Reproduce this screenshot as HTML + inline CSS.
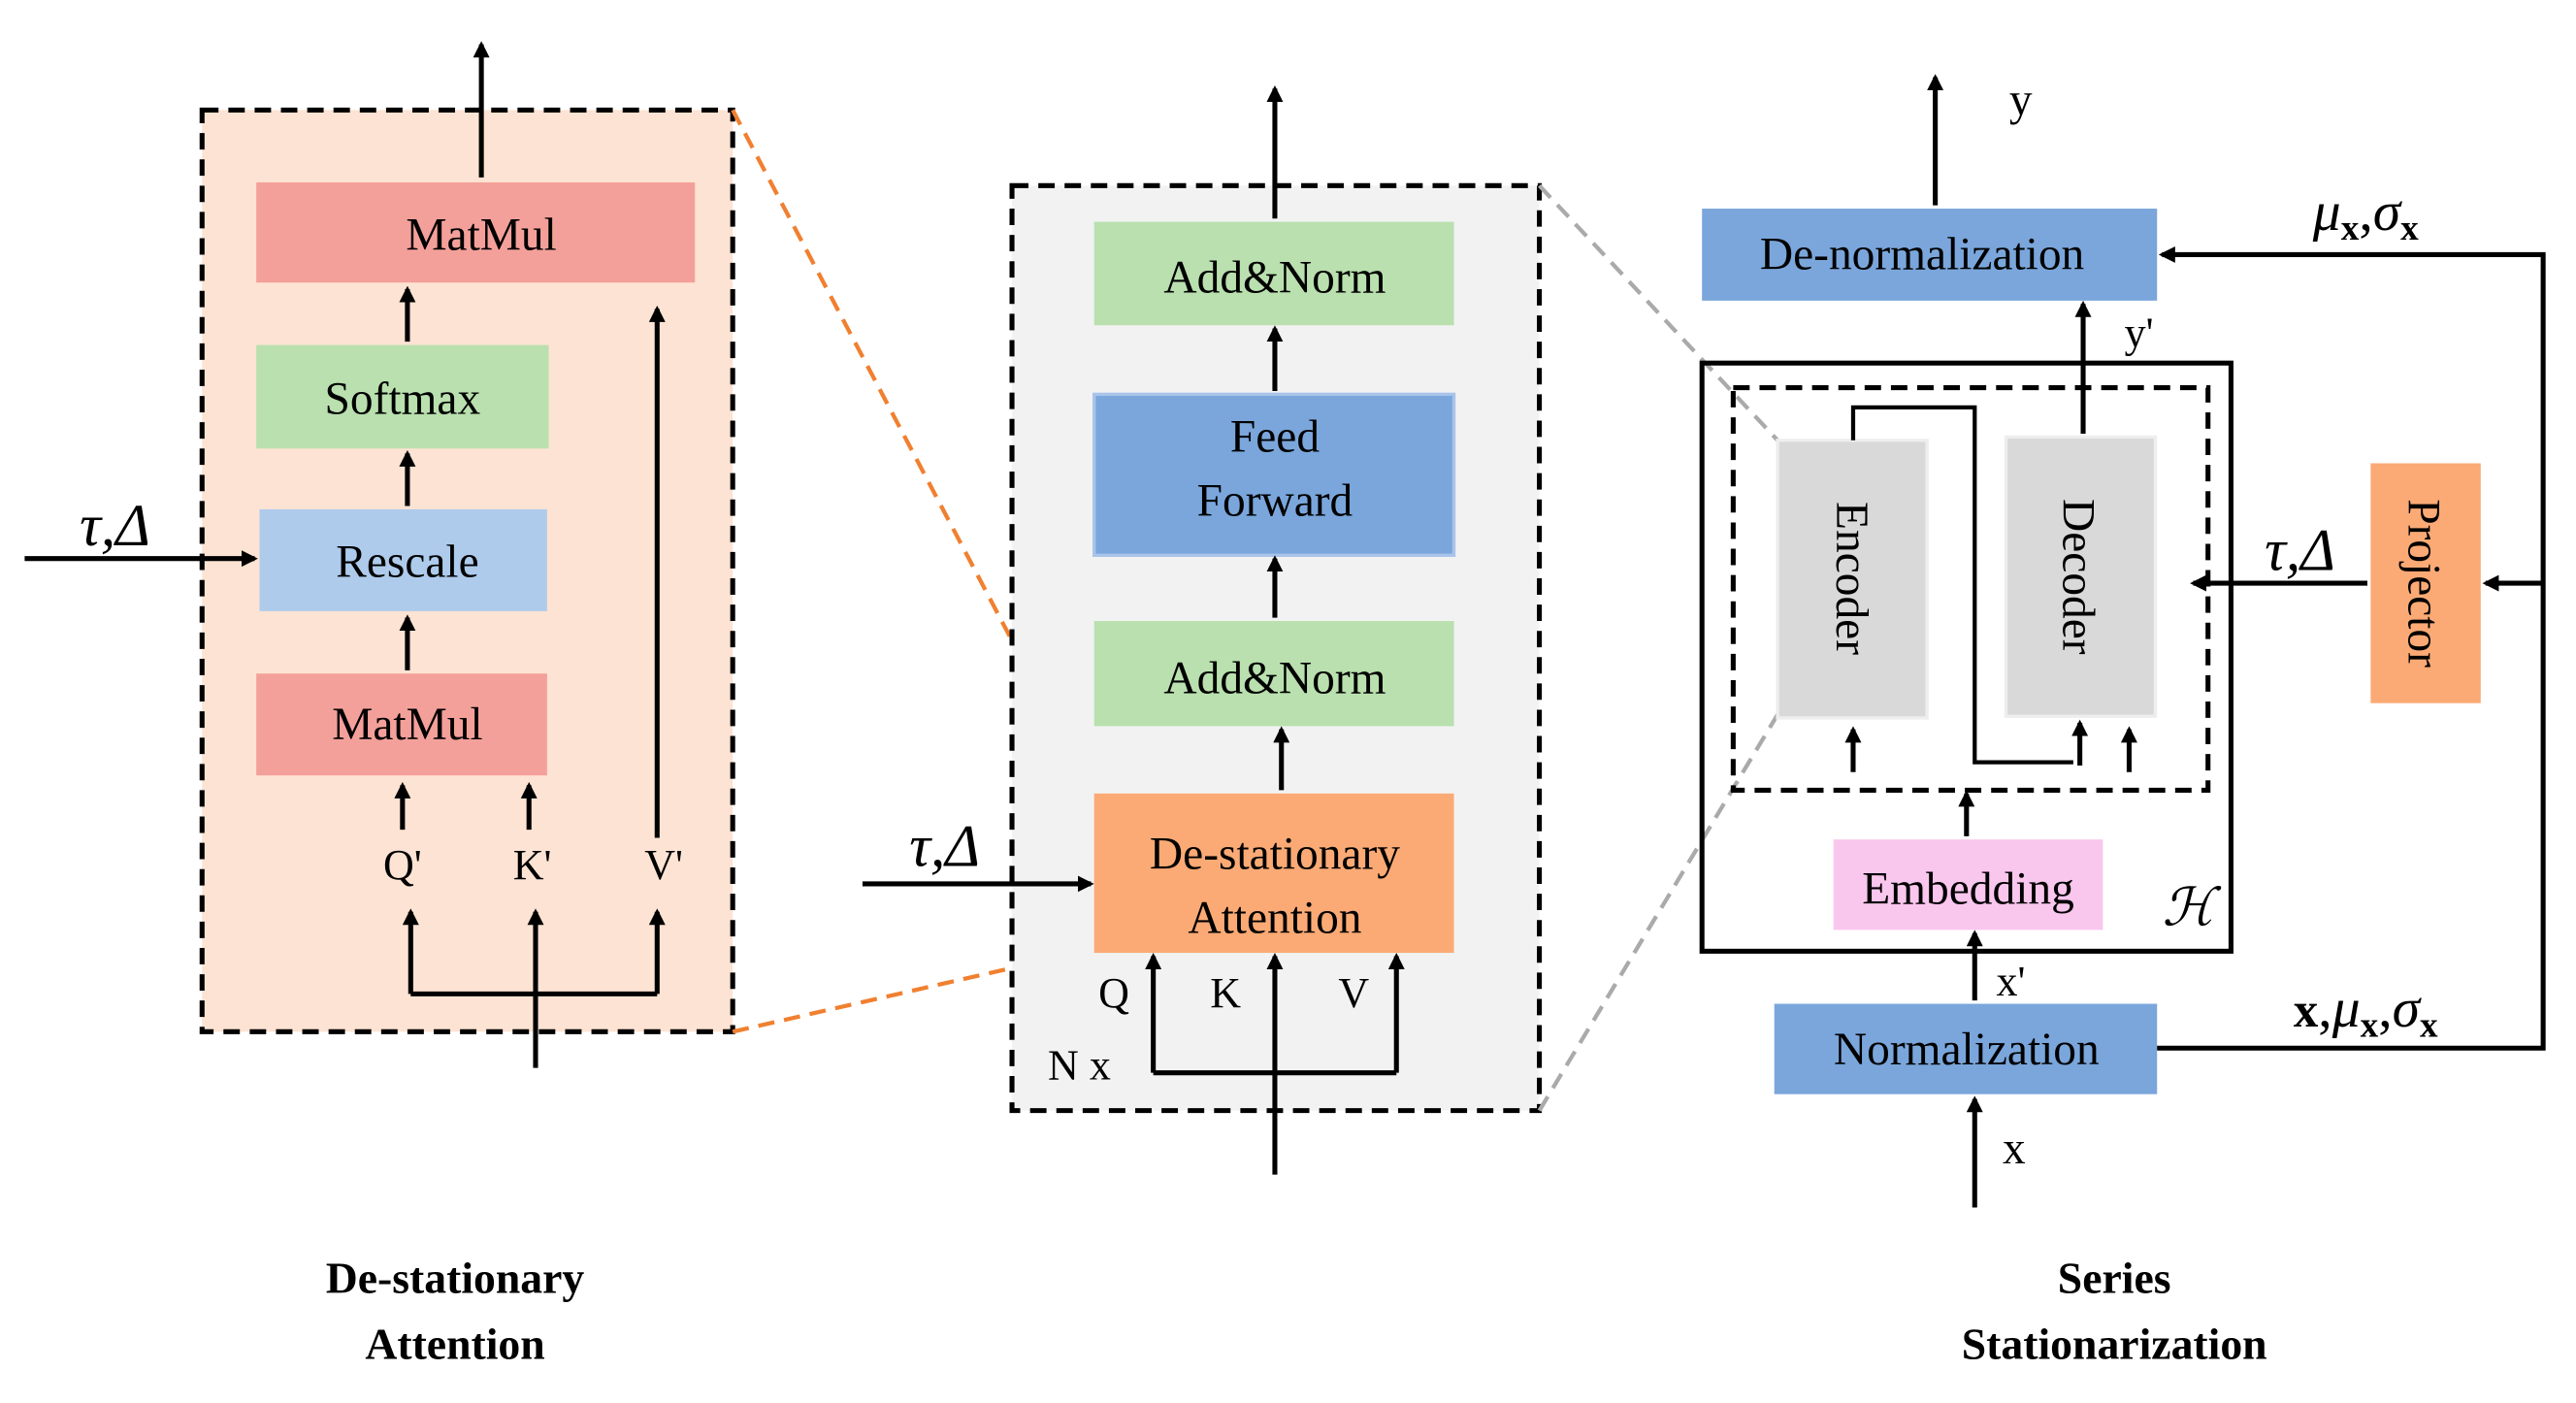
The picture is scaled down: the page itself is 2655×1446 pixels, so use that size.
<!DOCTYPE html>
<html><head><meta charset="utf-8"><style>
html,body{margin:0;padding:0;background:#fff;}
svg{display:block;}
svg, svg text{font-family:"Liberation Serif","Times New Roman",serif;fill:#000;}
</style></head><body>
<svg width="2655" height="1446" viewBox="0 0 1568 854" preserveAspectRatio="none" xmlns="http://www.w3.org/2000/svg" font-family="Liberation Serif, serif">
<defs>
<marker id="a" markerWidth="10" markerHeight="10" refX="8" refY="5" orient="auto" markerUnits="userSpaceOnUse">
<path d="M0,0 L10,5 L0,10 z" fill="#000"/></marker>
</defs>
<g font-size="28" text-anchor="middle" font-family="Liberation Serif, serif">
<!-- Left panel -->
<rect x="123" y="67" width="323" height="561" fill="#fde3d3" stroke="#000" stroke-width="3" stroke-dasharray="10,6"/>
<rect x="156" y="111" width="267" height="61" fill="#f4a09a"/><text x="293" y="152">MatMul</text>
<rect x="156" y="210" width="178" height="63" fill="#b9e0ae"/><text x="245" y="252">Softmax</text>
<rect x="158" y="310" width="175" height="62" fill="#aecbec"/><text x="248" y="351">Rescale</text>
<rect x="156" y="410" width="177" height="62" fill="#f4a09a"/><text x="248" y="450">MatMul</text>
<g stroke="#000" stroke-width="3" fill="none" marker-end="url(#a)">
<line x1="293" y1="108" x2="293" y2="27"/>
<line x1="248" y1="208" x2="248" y2="176"/>
<line x1="248" y1="308" x2="248" y2="276"/>
<line x1="248" y1="408" x2="248" y2="376"/>
<line x1="400" y1="510" x2="400" y2="188"/>
<line x1="245" y1="505" x2="245" y2="478"/>
<line x1="322" y1="505" x2="322" y2="478"/>
<line x1="15" y1="340" x2="155" y2="340"/>
<line x1="250" y1="605" x2="250" y2="555"/>
<line x1="326" y1="650" x2="326" y2="555"/>
<line x1="400" y1="605" x2="400" y2="555"/>
</g>
<line x1="250" y1="605" x2="400" y2="605" stroke="#000" stroke-width="3"/>
<text x="245" y="535" font-size="26">Q'</text><text x="324" y="535" font-size="26">K'</text><text x="404" y="535" font-size="26">V'</text>
<text x="70" y="332" font-size="36" font-style="italic">τ,Δ</text>
<line x1="446" y1="67" x2="665" y2="483" stroke="#f08030" stroke-width="2.5" stroke-dasharray="10,6"/>
<line x1="446" y1="628" x2="665" y2="578" stroke="#f08030" stroke-width="2.5" stroke-dasharray="10,6"/>

<!-- Middle panel -->
<rect x="616" y="113" width="321" height="563" fill="#f2f2f2" stroke="#000" stroke-width="3" stroke-dasharray="10,6"/>
<rect x="666" y="135" width="219" height="63" fill="#b9e0ae"/><text x="776" y="178">Add&amp;Norm</text>
<rect x="666" y="240" width="219" height="98" fill="#7aa6db" stroke="#a9c4ea" stroke-width="2"/><text x="776" y="275">Feed</text><text x="776" y="314">Forward</text>
<rect x="666" y="378" width="219" height="64" fill="#b9e0ae"/><text x="776" y="422">Add&amp;Norm</text>
<rect x="666" y="483" width="219" height="97" fill="#fbaa75"/><text x="776" y="529">De-stationary</text><text x="776" y="568">Attention</text>
<g stroke="#000" stroke-width="3" fill="none" marker-end="url(#a)">
<line x1="776" y1="133" x2="776" y2="54"/>
<line x1="776" y1="238" x2="776" y2="200"/>
<line x1="776" y1="376" x2="776" y2="340"/>
<line x1="780" y1="481" x2="780" y2="444"/>
<line x1="525" y1="538" x2="664" y2="538"/>
<line x1="702" y1="653" x2="702" y2="582"/>
<line x1="776" y1="715" x2="776" y2="582"/>
<line x1="850" y1="653" x2="850" y2="582"/>
</g>
<line x1="702" y1="653" x2="850" y2="653" stroke="#000" stroke-width="3"/>
<text x="678" y="613" font-size="26">Q</text><text x="746" y="613" font-size="26">K</text><text x="824" y="613" font-size="26">V</text>
<text x="657" y="657" font-size="26">N x</text>
<text x="575" y="527" font-size="36" font-style="italic">τ,Δ</text>
<line x1="937" y1="113" x2="1082" y2="268" stroke="#aaa" stroke-width="2.5" stroke-dasharray="10,6"/>
<line x1="937" y1="676" x2="1085" y2="430" stroke="#aaa" stroke-width="2.5" stroke-dasharray="10,6"/>

<!-- Right panel -->
<rect x="1036" y="221" width="322" height="358" fill="none" stroke="#000" stroke-width="3"/>
<rect x="1055" y="236" width="289" height="245" fill="none" stroke="#000" stroke-width="3" stroke-dasharray="10,6"/>
<rect x="1082" y="268" width="91" height="169" fill="#d9d9d9" stroke="#eee" stroke-width="2"/>
<text transform="translate(1128,352) rotate(90)" y="10">Encoder</text>
<rect x="1221" y="266" width="91" height="170" fill="#d9d9d9" stroke="#eee" stroke-width="2"/>
<text transform="translate(1266,351) rotate(90)" y="10">Decoder</text>
<rect x="1036" y="127" width="277" height="56" fill="#7aa6db"/><text x="1170" y="164">De-normalization</text>
<rect x="1080" y="611" width="233" height="55" fill="#7aa6db"/><text x="1197" y="648">Normalization</text>
<rect x="1116" y="511" width="164" height="55" fill="#f9c6ee"/><text x="1198" y="550">Embedding</text>
<text x="1332" y="563" font-size="32" font-style="italic">ℋ</text>
<rect x="1443" y="282" width="67" height="146" fill="#fbaa75"/>
<text transform="translate(1476,355) rotate(90)" y="10">Projector</text>
<polyline points="1128,268 1128,248 1202,248 1202,464 1262,464" fill="none" stroke="#000" stroke-width="2.5"/>
<g stroke="#000" stroke-width="3" fill="none" marker-end="url(#a)">
<line x1="1178" y1="125" x2="1178" y2="47"/>
<line x1="1268" y1="264" x2="1268" y2="185"/>
<line x1="1266" y1="466" x2="1266" y2="440"/>
<line x1="1128" y1="470" x2="1128" y2="444"/>
<line x1="1296" y1="470" x2="1296" y2="444"/>
<line x1="1197" y1="509" x2="1197" y2="483"/>
<line x1="1202" y1="609" x2="1202" y2="568"/>
<line x1="1202" y1="735" x2="1202" y2="669"/>
<polyline points="1313,638 1548,638 1548,155 1316,155"/>
<line x1="1548" y1="355" x2="1513" y2="355"/>
<line x1="1441" y1="355" x2="1335" y2="355"/>
</g>
<text x="1230" y="70" font-size="28">y</text>
<text x="1302" y="211" font-size="26">y'</text>
<text x="1224" y="606" font-size="26">x'</text>
<text x="1226" y="708" font-size="28">x</text>
<text x="1400" y="347" font-size="36" font-style="italic">τ,Δ</text>
<text x="1440" y="140" font-size="34"><tspan font-style="italic">μ</tspan><tspan font-size="22" font-weight="bold" dy="6">x</tspan><tspan dy="-6">,</tspan><tspan font-style="italic">σ</tspan><tspan font-size="22" font-weight="bold" dy="6">x</tspan></text>
<text x="1440" y="625" font-size="34"><tspan font-weight="bold" font-size="30">x</tspan>,<tspan font-style="italic">μ</tspan><tspan font-size="22" font-weight="bold" dy="6">x</tspan><tspan dy="-6">,</tspan><tspan font-style="italic">σ</tspan><tspan font-size="22" font-weight="bold" dy="6">x</tspan></text>

<!-- Titles -->
<text x="277" y="787" font-size="27" font-weight="bold">De-stationary</text>
<text x="277" y="827" font-size="27" font-weight="bold">Attention</text>
<text x="1287" y="787" font-size="27" font-weight="bold">Series</text>
<text x="1287" y="827" font-size="27" font-weight="bold">Stationarization</text>
</g>
</svg>
</body></html>
